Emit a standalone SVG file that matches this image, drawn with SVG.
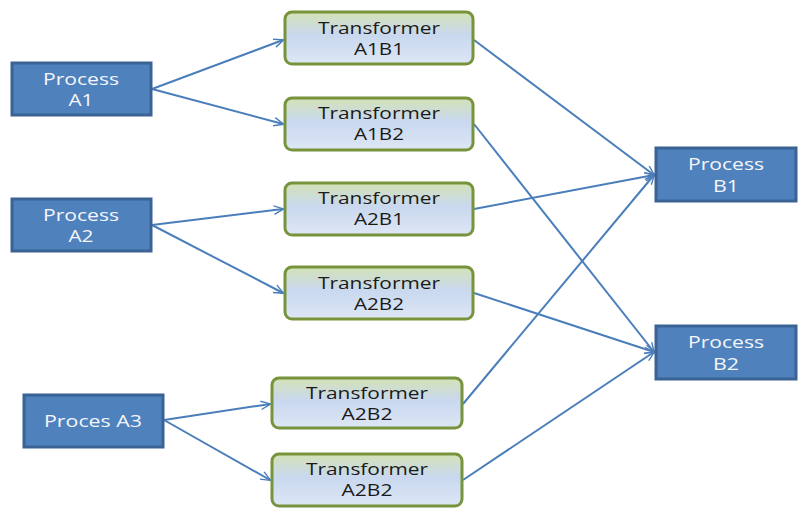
<svg xmlns="http://www.w3.org/2000/svg" width="800" height="518" viewBox="0 0 800 518">
  <defs>
    <linearGradient id="tfFill" x1="0" y1="0" x2="0" y2="1">
      <stop offset="0" stop-color="#d3e2b6"/>
      <stop offset="0.45" stop-color="#c9d8ef"/>
      <stop offset="1" stop-color="#dde7f5"/>
    </linearGradient>
    <marker id="arrow" viewBox="0 0 10 10" refX="9" refY="5" markerWidth="7" markerHeight="7" markerUnits="userSpaceOnUse" orient="auto" overflow="visible">
      <path d="M-4,-1 L10,5 L-4,11" fill="none" stroke="#4a7ebb" stroke-width="2"/>
    </marker>
    <style>
      .proc rect { fill: #4f81bd; stroke: #3a6294; stroke-width: 3; }
      .proc text { fill: #f4f6fa; font-family: "Open Sans", "Liberation Sans", sans-serif; font-size: 17px; text-anchor: middle; }
      .tf rect { fill: url(#tfFill); stroke: #77933c; stroke-width: 3; }
      .tf text { fill: #1a1a1a; font-family: "Open Sans", "Liberation Sans", sans-serif; font-size: 17px; text-anchor: middle; }
      .conn line { stroke: #4a7ebb; stroke-width: 2; marker-end: url(#arrow); }
    </style>
  </defs>
  <rect width="800" height="518" fill="#ffffff"/>

  <g class="conn" id="connectors">
    <line x1="152" y1="89" x2="283" y2="40"/>
    <line x1="152" y1="89" x2="283" y2="124"/>
    <line x1="152" y1="225" x2="283" y2="209"/>
    <line x1="152" y1="225" x2="283" y2="293"/>
    <line x1="164" y1="420" x2="270" y2="404"/>
    <line x1="164" y1="420" x2="270" y2="480"/>
    <line x1="474" y1="40" x2="654" y2="175"/>
    <line x1="474" y1="124" x2="654" y2="352"/>
    <line x1="474" y1="209" x2="654" y2="175"/>
    <line x1="474" y1="293" x2="654" y2="352"/>
    <line x1="463" y1="404" x2="654" y2="175"/>
    <line x1="463" y1="480" x2="654" y2="352"/>
  </g>

  <g class="proc" id="process-a1">
    <rect x="12" y="63" width="139" height="52"/>
    <text x="81" y="85" textLength="76" lengthAdjust="spacingAndGlyphs">Process</text>
    <text x="81" y="106" textLength="25" lengthAdjust="spacingAndGlyphs">A1</text>
  </g>
  <g class="proc" id="process-a2">
    <rect x="12" y="199" width="139" height="52"/>
    <text x="81" y="221" textLength="76" lengthAdjust="spacingAndGlyphs">Process</text>
    <text x="81" y="242" textLength="25" lengthAdjust="spacingAndGlyphs">A2</text>
  </g>
  <g class="proc" id="process-a3">
    <rect x="24" y="395" width="139" height="52"/>
    <text x="93" y="427" textLength="98" lengthAdjust="spacingAndGlyphs">Proces A3</text>
  </g>
  <g class="proc" id="process-b1">
    <rect x="656" y="148" width="140" height="53"/>
    <text x="726" y="170" textLength="76" lengthAdjust="spacingAndGlyphs">Process</text>
    <text x="726" y="192" textLength="26" lengthAdjust="spacingAndGlyphs">B1</text>
  </g>
  <g class="proc" id="process-b2">
    <rect x="656" y="326" width="140" height="53"/>
    <text x="726" y="348" textLength="76" lengthAdjust="spacingAndGlyphs">Process</text>
    <text x="726" y="370" textLength="26" lengthAdjust="spacingAndGlyphs">B2</text>
  </g>

  <g class="tf" id="transformer-a1b1">
    <rect x="285" y="12" width="188" height="52" rx="7"/>
    <text x="379" y="34" textLength="122" lengthAdjust="spacingAndGlyphs">Transformer</text>
    <text x="379" y="55" textLength="50" lengthAdjust="spacingAndGlyphs">A1B1</text>
  </g>
  <g class="tf" id="transformer-a1b2">
    <rect x="285" y="98" width="188" height="52" rx="7"/>
    <text x="379" y="119" textLength="122" lengthAdjust="spacingAndGlyphs">Transformer</text>
    <text x="379" y="140" textLength="50" lengthAdjust="spacingAndGlyphs">A1B2</text>
  </g>
  <g class="tf" id="transformer-a2b1">
    <rect x="285" y="183" width="188" height="52" rx="7"/>
    <text x="379" y="204" textLength="122" lengthAdjust="spacingAndGlyphs">Transformer</text>
    <text x="379" y="225" textLength="50" lengthAdjust="spacingAndGlyphs">A2B1</text>
  </g>
  <g class="tf" id="transformer-a2b2">
    <rect x="285" y="267" width="188" height="52" rx="7"/>
    <text x="379" y="289" textLength="122" lengthAdjust="spacingAndGlyphs">Transformer</text>
    <text x="379" y="310" textLength="50" lengthAdjust="spacingAndGlyphs">A2B2</text>
  </g>
  <g class="tf" id="transformer-a2b2-upper">
    <rect x="272" y="378" width="190" height="50" rx="7"/>
    <text x="367" y="399" textLength="122" lengthAdjust="spacingAndGlyphs">Transformer</text>
    <text x="367" y="420" textLength="51" lengthAdjust="spacingAndGlyphs">A2B2</text>
  </g>
  <g class="tf" id="transformer-a2b2-lower">
    <rect x="272" y="454" width="190" height="52" rx="7"/>
    <text x="367" y="475" textLength="122" lengthAdjust="spacingAndGlyphs">Transformer</text>
    <text x="367" y="496" textLength="51" lengthAdjust="spacingAndGlyphs">A2B2</text>
  </g>
</svg>
